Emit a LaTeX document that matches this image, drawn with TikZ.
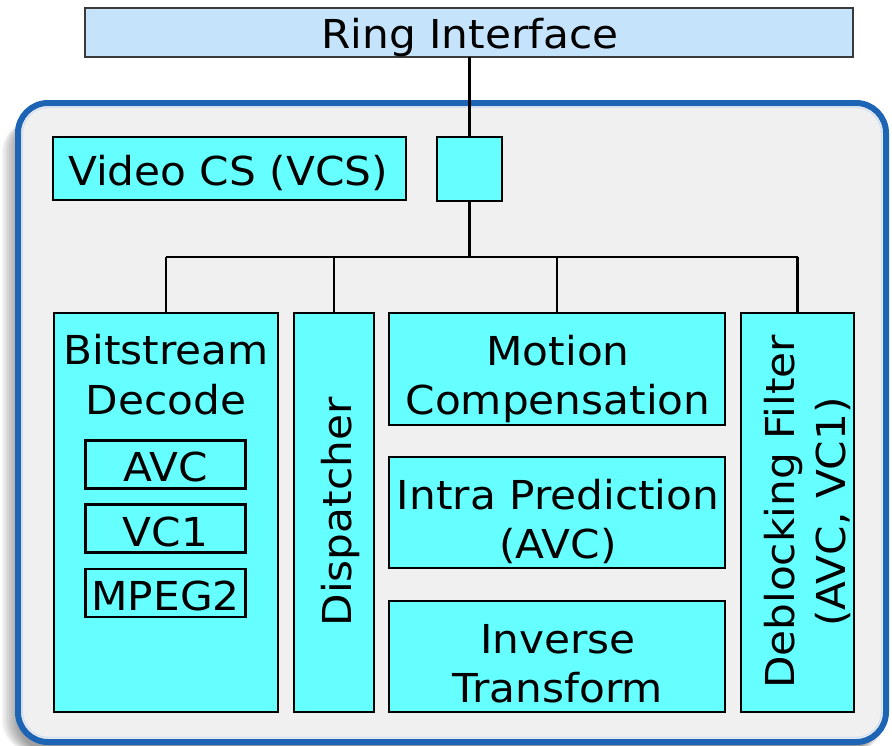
\documentclass[tikz,border=0pt]{standalone}
\usepackage{fontspec}
\setmainfont{DejaVu Sans}[FakeStretch=1.06]
\definecolor{cyanfill}{HTML}{66FFFF}
\definecolor{ringfill}{HTML}{C5E3FB}
\definecolor{ringedge}{HTML}{3A3A3A}
\definecolor{contfill}{HTML}{F0F0F0}
\definecolor{contedge}{HTML}{1E64B4}
\begin{document}
\begin{tikzpicture}[x=1bp,y=-1bp,
  every node/.style={inner sep=0pt, outer sep=0pt},
  txt/.style={anchor=base, font=\fontsize{40}{50}\selectfont},
  vtxt/.style={anchor=base, rotate=90, font=\fontsize{40}{50}\selectfont},
  blk/.style={draw=black, line width=2.6bp, fill=cyanfill},
  wire/.style={draw=black, line width=2.6bp}]
\useasboundingbox (0,0) rectangle (892,746);
\fill[white] (0,0) rectangle (892,746);
% shadow
\foreach \i in {0,...,9}{
  \fill[black, opacity=0.045, rounded corners=32bp] (18-1.8*\i,112+\i) rectangle (884-\i,752);
}
% container
\draw[contedge, fill=contfill, line width=6bp, rounded corners=30bp] (18,103) rectangle (886,742);
\draw[white!80!contedge, line width=1.2bp, rounded corners=26bp] (22.5,107.5) rectangle (881.5,737.5);
% ring interface
\node[draw=ringedge, line width=2.4bp, fill=ringfill, minimum width=768bp, minimum height=49bp] (ring) at (469,32.5) {};
\node[txt] (ringt) at (470,49) {Ring Interface};
% top boxes
\node[blk, minimum width=353bp, minimum height=63bp] (vcs) at (229.5,168.5) {};
\node[txt] (vcst) at (228,185.5) {Video CS (VCS)};
\node[blk, minimum width=65bp, minimum height=64bp] (sq) at (469.5,169) {};
% bitstream decode
\node[blk, minimum width=224bp, minimum height=399bp] (bs) at (166,512.5) {};
\node[txt] (bst1) at (166,364) {Bitstream};
\node[txt] (bst2) at (166,414) {Decode};
\node[blk, minimum width=160bp, minimum height=48bp] (avc) at (165.5,464.5) {};
\node[txt] (avct) at (165.5,481.5) {AVC};
\node[blk, minimum width=160bp, minimum height=48bp] (vc1) at (165.5,528.5) {};
\node[txt] (vc1t) at (165.5,546) {VC1};
\node[blk, minimum width=160bp, minimum height=48bp] (mpeg) at (165.5,593) {};
\node[txt] (mpegt) at (165.5,610) {MPEG2};
% dispatcher
\node[blk, minimum width=80bp, minimum height=399bp] (disp) at (334,512.5) {};
\node[vtxt] (dispt) at (351.5,512) {Dispatcher};
% middle column
\node[blk, minimum width=336bp, minimum height=112bp] (mc) at (557,369) {};
\node[txt] (mct1) at (558,365) {Motion};
\node[txt] (mct2) at (558,414) {Compensation};
\node[blk, minimum width=336bp, minimum height=111bp] (ip) at (557,512.5) {};
\node[txt] (ipt1) at (558,509) {Intra Prediction};
\node[txt] (ipt2) at (558,558) {(AVC)};
\node[blk, minimum width=336bp, minimum height=111bp] (it) at (557,656.5) {};
\node[txt] (itt1) at (558,653) {Inverse};
\node[txt] (itt2) at (558,702) {Transform};
% deblocking
\node[blk, minimum width=113bp, minimum height=399bp] (db) at (797.5,512.5) {};
\node[vtxt] (dbt1) at (794,512) {Deblocking Filter};
\node[vtxt] (dbt2) at (845,512) {(AVC, VC1)};
% wires
\coordinate (bus) at (469.5,257);
\draw[wire] (ring.south -| sq.north) -- (sq.north);
\draw[wire] (sq.south) -- (bus);
\draw[wire] (bus -| bs.north) -- (bus -| db.north);
\draw[wire] (bus -| bs.north) -- (bs.north);
\draw[wire] (bus -| disp.north) -- (disp.north);
\draw[wire] (bus -| mc.north) -- (mc.north);
\draw[wire] (bus -| db.north) -- (db.north);
\end{tikzpicture}
\end{document}
